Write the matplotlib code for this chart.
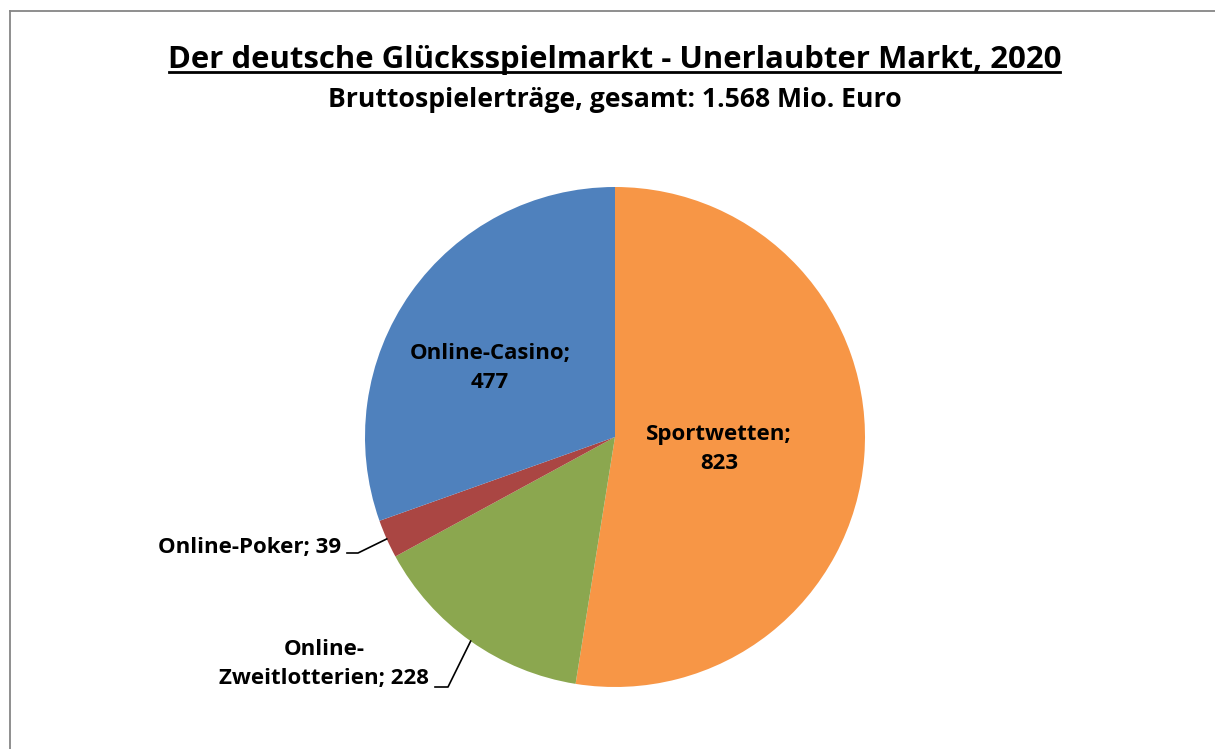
import matplotlib
matplotlib.use("Agg")
import matplotlib.pyplot as plt
import numpy as np
from matplotlib.lines import Line2D

# ---- data ----
categories = ["Sportwetten", "Online-Zweitlotterien", "Online-Poker", "Online-Casino"]
values = [823, 228, 39, 477]
colors = ["#F79646", "#8BA74F", "#AA4643", "#4F81BD"]
label_texts = ["Sportwetten;\n823", "Online-\nZweitlotterien; 228", "Online-Poker; 39", "Online-Casino;\n477"]
title = "Der deutsche Glücksspielmarkt - Unerlaubter Markt, 2020"
subtitle = "Bruttospielerträge, gesamt: 1.568 Mio. Euro"

W, H = 1215, 749
fig = plt.figure(figsize=(W / 100, H / 100), dpi=100)
fig.patch.set_facecolor("white")
FONT = "Open Sans"

# frame (gray border, continuing past right/bottom)
fig.add_artist(Line2D([10 / W, 1.0], [1 - 11 / H, 1 - 11 / H], transform=fig.transFigure,
                      color="#868686", lw=1.3))
fig.add_artist(Line2D([10 / W, 10 / W], [0, 1 - 11 / H], transform=fig.transFigure,
                      color="#868686", lw=1.3))

# title + subtitle
t = fig.text(615 / W, 1 - 68 / H, title, ha="center", va="baseline", fontsize=22.4,
             fontweight="bold", family=FONT, color="black")
fig.text(615 / W, 1 - 107 / H, subtitle, ha="center", va="baseline", fontsize=19.2,
         fontweight="bold", family=FONT, color="black")

# pie axes: center (615,437), radius 250 px
cx, cy, R = 615, 437, 250
ax = fig.add_axes([(cx - R) / W, (H - cy - R) / H, 2 * R / W, 2 * R / H])
wedges, _ = ax.pie(values, colors=colors, startangle=90, counterclock=False,
                   radius=1.0, wedgeprops=dict(linewidth=0))
ax.set_xlim(-1, 1)
ax.set_ylim(-1, 1)
ax.set_aspect("equal")
ax.axis("off")

def px(x, y):
    return ((x - cx) / R, (cy - y) / R)

lfs = 16
ls = 1.45
# inside labels
ax.text(*px(719, 449), label_texts[0], ha="center", va="center", fontsize=lfs,
        fontweight="bold", family=FONT, linespacing=ls)
ax.text(*px(490, 368), label_texts[3], ha="center", va="center", fontsize=lfs,
        fontweight="bold", family=FONT, linespacing=ls)
# outside labels
ax.text(*px(341, 547), label_texts[2], ha="right", va="center", fontsize=lfs,
        fontweight="bold", family=FONT)
ax.text(*px(324, 664), label_texts[1], ha="center", va="center", fontsize=lfs,
        fontweight="bold", family=FONT, linespacing=ls)

# leader lines to wedge mid-points on the rim
total = sum(values)
cum = np.cumsum([0] + values)
def rim(i):
    mid = (cum[i] + values[i] / 2) / total * 360
    ang = np.deg2rad(90 - mid)
    return np.cos(ang), np.sin(ang)

for i, (p0, p1) in {2: ((347, 553), (358, 553)), 1: ((435, 687), (448, 687))}.items():
    a = px(*p0); b = px(*p1); c = rim(i)
    ax.plot([a[0], b[0], c[0]], [a[1], b[1], c[1]], color="black", lw=1.2, clip_on=False)

# underline for title
fig.canvas.draw()
bb = t.get_window_extent()
fig.add_artist(Line2D([(bb.x0 + 1) / W, (bb.x1 - 2) / W], [(H - 72) / H, (H - 72) / H],
                      transform=fig.transFigure, color="black", lw=2))

fig.savefig("out.png", dpi=100, facecolor="white")
